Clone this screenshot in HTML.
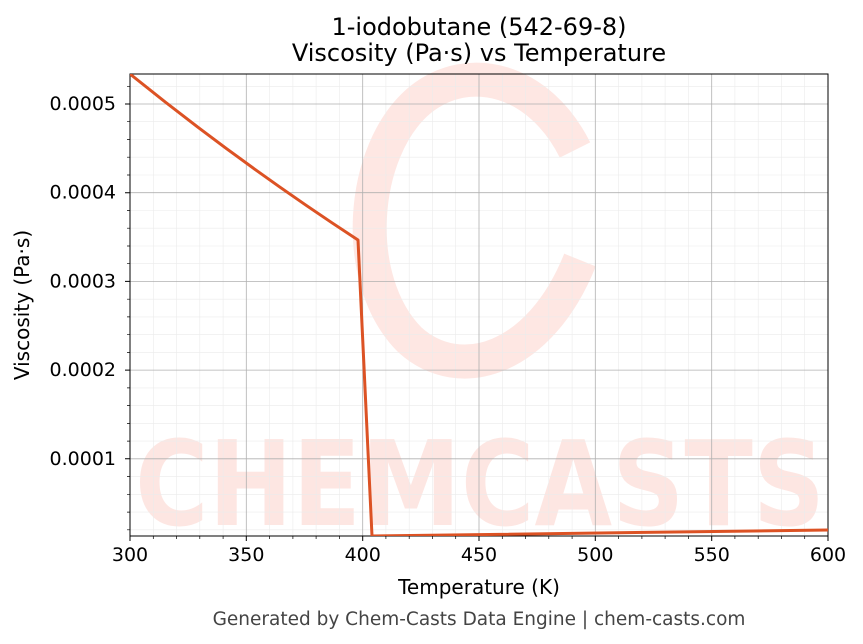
<!DOCTYPE html>
<html><head><style>body{margin:0;background:#fff}svg{display:block}text{font-family:"DejaVu Sans","Liberation Sans",sans-serif}</style></head><body>
<svg width="863" height="644" viewBox="0 0 863 644" xmlns="http://www.w3.org/2000/svg">
<rect width="863" height="644" fill="#fff"/>
<g opacity="0.45">
<path d="M575 150 C540 80 470 60 420 100 C360 150 350 280 410 340 C460 385 540 360 580 260" fill="none" stroke="#fcc9c0" stroke-width="34"/>
<text x="480" y="525" font-size="118" font-weight="bold" fill="#fcc9c0" text-anchor="middle" textLength="690" lengthAdjust="spacingAndGlyphs">CHEMCASTS</text>
</g>
<g stroke="#ebebeb" stroke-width="0.6">
<path d="M153.3 74V536M176.5 74V536M199.8 74V536M223.1 74V536M269.6 74V536M292.9 74V536M316.1 74V536M339.4 74V536M385.9 74V536M409.2 74V536M432.5 74V536M455.7 74V536M502.3 74V536M525.5 74V536M548.8 74V536M572.1 74V536M618.6 74V536M641.9 74V536M665.1 74V536M688.4 74V536M734.9 74V536M758.2 74V536M781.5 74V536M804.7 74V536"/>
<path d="M130 86.3H828M130 121.7H828M130 139.5H828M130 157.2H828M130 175H828M130 210.5H828M130 228.2H828M130 246H828M130 263.7H828M130 299.2H828M130 316.9H828M130 334.7H828M130 352.4H828M130 387.9H828M130 405.6H828M130 423.4H828M130 441.1H828M130 476.6H828M130 494.3H828M130 512.1H828M130 529.8H828"/>
</g>
<g stroke="#b0b0b0" stroke-width="0.8">
<path d="M246.3 74V536M362.7 74V536M479 74V536M595.3 74V536M711.7 74V536"/>
<path d="M130 104H828M130 192.7H828M130 281.4H828M130 370.1H828M130 458.8H828"/>
</g>
<rect x="130" y="74" width="698" height="462" fill="none" stroke="#000" stroke-width="1"/>
<g stroke="#000" stroke-width="1">
<path d="M130 536v5M246.3 536v5M362.7 536v5M479 536v5M595.3 536v5M711.7 536v5M828 536v5"/>
<path d="M130 104h-5M130 192.7h-5M130 281.4h-5M130 370.1h-5M130 458.8h-5"/>
</g>
<g stroke="#000" stroke-width="0.7">
<path d="M153.3 536v3M176.5 536v3M199.8 536v3M223.1 536v3M269.6 536v3M292.9 536v3M316.1 536v3M339.4 536v3M385.9 536v3M409.2 536v3M432.5 536v3M455.7 536v3M502.3 536v3M525.5 536v3M548.8 536v3M572.1 536v3M618.6 536v3M641.9 536v3M665.1 536v3M688.4 536v3M734.9 536v3M758.2 536v3M781.5 536v3M804.7 536v3"/>
<path d="M130 86.3h-3M130 121.7h-3M130 139.5h-3M130 157.2h-3M130 175h-3M130 210.5h-3M130 228.2h-3M130 246h-3M130 263.7h-3M130 299.2h-3M130 316.9h-3M130 334.7h-3M130 352.4h-3M130 387.9h-3M130 405.6h-3M130 423.4h-3M130 441.1h-3M130 476.6h-3M130 494.3h-3M130 512.1h-3M130 529.8h-3"/>
</g>
<g font-size="19" fill="#000" text-anchor="middle">
<text x="130" y="561">300</text><text x="246.3" y="561">350</text><text x="362.7" y="561">400</text><text x="479" y="561">450</text><text x="595.3" y="561">500</text><text x="711.7" y="561">550</text><text x="828" y="561">600</text>
</g>
<g font-size="19" fill="#000" text-anchor="end">
<text x="116" y="110">0.0005</text><text x="116" y="198.7">0.0004</text><text x="116" y="287.4">0.0003</text><text x="116" y="376.1">0.0002</text><text x="116" y="464.8">0.0001</text>
</g>
<text x="479" y="594" font-size="20" text-anchor="middle">Temperature (K)</text>
<text transform="translate(29,305) rotate(-90)" font-size="20" text-anchor="middle">Viscosity (Pa·s)</text>
<text x="479" y="35" font-size="24" text-anchor="middle">1-iodobutane (542-69-8)</text>
<text x="479" y="61" font-size="24" text-anchor="middle">Viscosity (Pa·s) vs Temperature</text>
<text x="479" y="625" font-size="18.5" fill="#444" text-anchor="middle">Generated by Chem-Casts Data Engine | chem-casts.com</text>
<clipPath id="c"><rect x="130" y="74" width="698" height="462"/></clipPath>
<path clip-path="url(#c)" fill="none" stroke="#dc5224" stroke-width="3" stroke-linejoin="round" d="M130 74 Q240 163 358 240 L372 536 L828 530"/>
</svg>
</body></html>
